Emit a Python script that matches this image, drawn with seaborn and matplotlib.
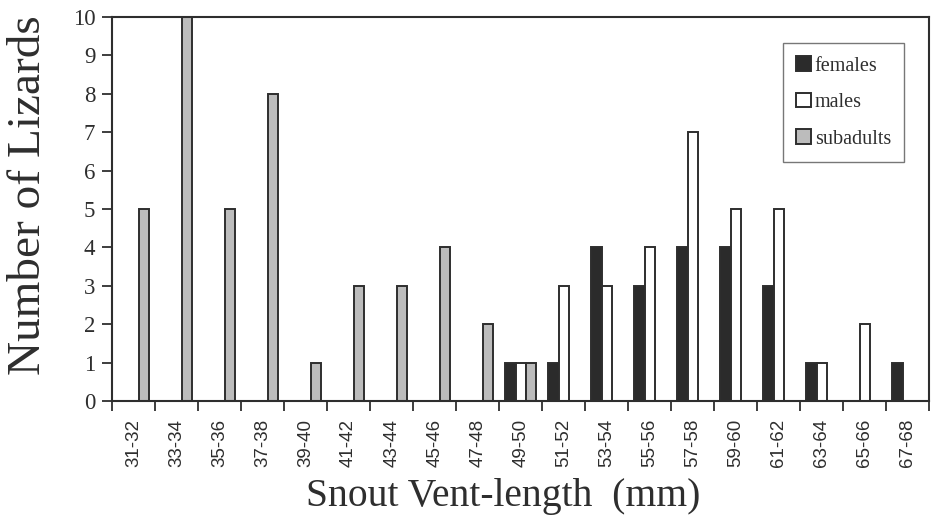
"""Lizard snout-vent length distribution by sex/age class."""
import matplotlib
matplotlib.use("Agg")
import matplotlib.pyplot as plt
import numpy as np
import pandas as pd
import seaborn as sns

size_classes = ["31-32", "33-34", "35-36", "37-38", "39-40", "41-42", "43-44",
                "45-46", "47-48", "49-50", "51-52", "53-54", "55-56", "57-58",
                "59-60", "61-62", "63-64", "65-66", "67-68"]
females = [0, 0, 0, 0, 0, 0, 0, 0, 0, 1, 1, 4, 3, 4, 4, 3, 1, 0, 1]
males = [0, 0, 0, 0, 0, 0, 0, 0, 0, 1, 3, 3, 4, 7, 5, 5, 1, 2, 0]
subadults = [5, 10, 5, 8, 1, 3, 3, 4, 2, 1, 0, 0, 0, 0, 0, 0, 0, 0, 0]
groups = ["females", "males", "subadults"]
colors = ["#2b2b2b", "#ffffff", "#bcbcbc"]

df = pd.DataFrame({
    "size": size_classes * 3,
    "group": np.repeat(groups, len(size_classes)),
    "count": females + males + subadults,
})

sns.set_style("ticks")
plt.rcParams["font.family"] = ["Liberation Serif", "DejaVu Serif"]
ink = "#2e2e2e"

fig = plt.figure(figsize=(9.31, 5.22), dpi=100)
ax = fig.add_axes([0.1203, 0.2318, 0.878, 0.7356])

sns.barplot(data=df, x="size", y="count", hue="group", hue_order=groups,
            palette=colors, width=0.72, gap=0, edgecolor=ink, linewidth=1.4,
            saturation=1, ax=ax)

ax.set_xlim(-0.5, len(size_classes) - 0.5)
ax.set_ylim(0, 10)
ax.set_yticks(range(0, 11))
ax.tick_params(axis="y", direction="out", length=7, width=1.3, color=ink,
               labelsize=16.5, labelcolor=ink, pad=5)
ax.set_xticks(range(len(size_classes)))
ax.set_xticklabels(size_classes, rotation=90, family="Liberation Sans")
ax.set_xticks(np.arange(-0.5, len(size_classes)), minor=True)
ax.tick_params(axis="x", which="major", length=0, labelsize=13.5,
               labelcolor=ink, pad=13)
ax.tick_params(axis="x", which="minor", direction="out", length=7,
               width=1.3, color=ink)

for sp in ax.spines.values():
    sp.set_visible(True)
    sp.set_color(ink)
    sp.set_linewidth(1.5)

ax.set_xlabel("Snout Vent-length  (mm)", fontsize=28.5, color=ink, va="center")
ax.set_ylabel("Number of Lizards", fontsize=34, color=ink, va="center")
ax.xaxis.set_label_coords(0.478, -0.25)
ax.yaxis.set_label_coords(-0.102, 0.536)

leg = ax.legend(loc="upper right", bbox_to_anchor=(0.969, 0.932),
                fontsize=14.5, frameon=True, fancybox=False,
                handlelength=0.75, handleheight=0.75, handletextpad=0.2,
                labelspacing=0.85, borderpad=0.65, borderaxespad=0)
leg.get_frame().set_edgecolor("#555555")
leg.get_frame().set_linewidth(1.0)
for t in leg.get_texts():
    t.set_color(ink)

fig.savefig("out.png", dpi=100)
